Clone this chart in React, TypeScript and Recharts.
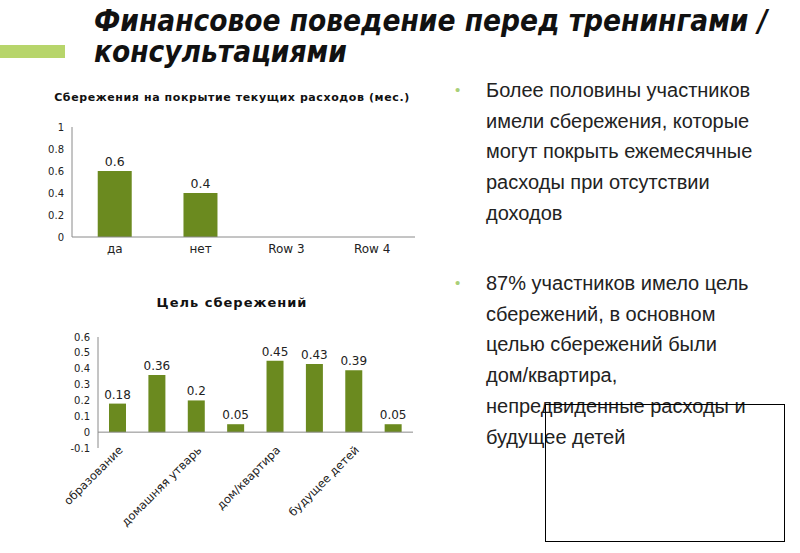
import React from 'react';
import { BarChart, Bar, XAxis, YAxis, LabelList, ReferenceLine } from 'recharts';

const coverCategories = ['да', 'нет', 'Row 3', 'Row 4'];
const coverValues = [0.6, 0.4, null, null];
const coverTicks = [0, 0.2, 0.4, 0.6, 0.8, 1];

const goalCategories = [
    'образование',
    'бизнес',
    'домашняя утварь',
    'автомобиль',
    'дом/квартира',
    'непредвиденные расходы',
    'будущее детей',
    'другое',
];
const goalValues = [0.18, 0.36, 0.2, 0.05, 0.45, 0.43, 0.39, 0.05];
const goalTicks = [-0.1, 0, 0.1, 0.2, 0.3, 0.4, 0.5, 0.6];

const bullets = [
    ['Более половины участников', 'имели сбережения, которые', 'могут покрыть ежемесячные', 'расходы при отсутствии', 'доходов'],
    ['87% участников имело цель', 'сбережений, в основном', 'целью сбережений были', 'дом/квартира,', 'непредвиденные расходы и', 'будущее детей'],
];

const BAR = '#6b8a1f';
const AXIS = '#8a8a8a';
const FONT = '"DejaVu Sans", sans-serif';

const coverData = coverCategories.map((c, i) => ({ name: c, value: coverValues[i] }));
const goalData = goalCategories.map((c, i) => ({ name: c, value: goalValues[i] }));

function RotatedTick({ x, y, payload }: any) {
    return (
        <g transform={`translate(${x + 3},${y - 8})`}>
            <text x={0} y={0} dy={4} textAnchor="end" transform="rotate(-45)" fontSize={11.5} fill="#222" fontFamily={FONT}>
                {payload.value}
            </text>
        </g>
    );
}

export default function App() {
    return (
        <div style={{ position: 'absolute', left: 0, top: 0, width: 800, height: 553, background: '#fff', fontFamily: FONT, overflow: 'hidden' }}>
            <div style={{ position: 'absolute', left: 0, top: 45, width: 65, height: 13, background: '#b7d56b' }} />
            <div
                style={{
                    position: 'absolute',
                    left: 94,
                    top: 6,
                    fontFamily: '"DejaVu Sans Condensed", "DejaVu Sans", sans-serif',
                    fontWeight: 'bold',
                    fontStyle: 'italic',
                    fontSize: 29.5,
                    lineHeight: '31px',
                    color: '#111',
                }}
            >
                Финансовое поведение перед тренингами /<br />консультациями
            </div>

            <div style={{ position: 'absolute', left: 30, top: 91, width: 404, textAlign: 'center', fontSize: 11, fontWeight: 'bold', letterSpacing: 0.6, color: '#111' }}>
                Сбережения на покрытие текущих расходов (мес.)
            </div>
            <div style={{ position: 'absolute', left: 30, top: 115 }}>
                <BarChart width={400} height={150} data={coverData} margin={{ top: 12, right: 15, left: 12, bottom: 3 }} barCategoryGap="30%">
                    <XAxis dataKey="name" tickLine={false} stroke={AXIS} tick={{ fontSize: 12, fill: '#222', fontFamily: FONT }} height={25} tickMargin={1} />
                    <YAxis domain={[0, 1]} ticks={coverTicks} interval={0} width={30} tickLine={false} stroke={AXIS} tick={{ fontSize: 10, fill: '#222', fontFamily: FONT }} />
                    <Bar dataKey="value" fill={BAR} isAnimationActive={false}>
                        <LabelList dataKey="value" position="top" fontSize={12.5} fill="#222" fontFamily={FONT} />
                    </Bar>
                </BarChart>
            </div>

            <div style={{ position: 'absolute', left: 30, top: 295, width: 404, textAlign: 'center', fontSize: 13, fontWeight: 'bold', letterSpacing: 1, color: '#111' }}>
                Цель сбережений
            </div>
            <div style={{ position: 'absolute', left: 50, top: 327 }}>
                <BarChart width={370} height={220} data={goalData} margin={{ top: 10, right: 7, left: 18, bottom: 0 }} barCategoryGap="28%">
                    <XAxis dataKey="name" axisLine={false} tickLine={false} interval={1} tick={<RotatedTick />} height={99} />
                    <YAxis domain={[-0.1, 0.6]} ticks={goalTicks} interval={0} width={30} tickLine={false} stroke={AXIS} tick={{ fontSize: 10, fill: '#222', fontFamily: FONT }} />
                    <ReferenceLine y={0} stroke={AXIS} />
                    <Bar dataKey="value" fill={BAR} isAnimationActive={false}>
                        <LabelList dataKey="value" position="top" fontSize={12} fill="#222" fontFamily={FONT} />
                    </Bar>
                </BarChart>
            </div>

            {bullets.map((lines, bi) => (
                <div key={bi} style={{ position: 'absolute', left: 455, top: bi === 0 ? 75 : 268, fontFamily: '"Liberation Sans", Arial, sans-serif', fontSize: 20, lineHeight: '30.7px', color: '#222' }}>
                    <span style={{ position: 'absolute', left: 0, top: 0, color: '#a9cf78', fontSize: 15 }}>•</span>
                    <div style={{ marginLeft: 31 }}>
                        {lines.map((l, li) => (
                            <div key={li} style={{ whiteSpace: 'nowrap' }}>{l}</div>
                        ))}
                    </div>
                </div>
            ))}

            <div style={{ position: 'absolute', left: 545, top: 404, width: 238, height: 136, border: '1px solid #000' }} />
        </div>
    );
}
